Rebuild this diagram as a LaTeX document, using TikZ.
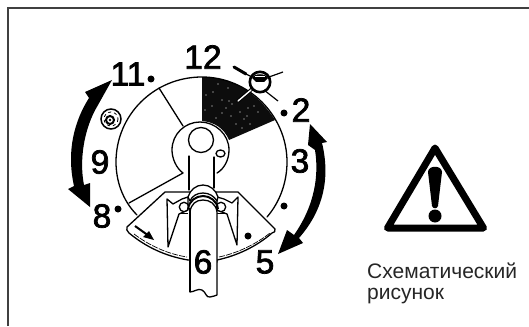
\documentclass[tikz,border=0pt]{standalone}
\usepackage{fontspec}
\setmainfont{Liberation Sans}
\newfontfamily\numfont[FakeBold=2.2]{Liberation Sans}
\begin{document}
\begin{tikzpicture}[x=1pt,y=-1pt,
  num/.style={font=\fontsize{33.5}{33}\numfont,inner sep=0pt,text=black},
  captxt/.style={font=\fontsize{21}{21}\selectfont,inner sep=0pt,anchor=base west,text=black!85},
  ln/.style={line width=1.3pt,line join=round,line cap=round},
  dotm/.style={circle,fill=black,inner sep=0pt,minimum size=7pt}]
\useasboundingbox (0,0) rectangle (529,326);
\fill[white] (0,0) rectangle (529,326);
% frame
\draw[line width=1.6pt,black!75] (8,326) -- (8,8) -- (529,8);
% wedge
\fill[black!95] (202,77) .. controls (229,77) and (256,90) .. (275,120) -- (229,140)
   .. controls (224,128) and (214,122) .. (202,121) -- cycle;
% dial
\draw[ln] (137,215) .. controls (122,200) and (116,180) .. (116,162)
   .. controls (116,115) and (154,77) .. (202,77)
   .. controls (248,77) and (287,115) .. (287,162)
   .. controls (287,182) and (280,202) .. (267,217);
\draw[ln] (159,88) -- (183,126);
\draw[ln] (129,203) -- (183,173);
% hub
\draw[ln] (183,173) .. controls (176,168) and (172,158) .. (172,150)
   .. controls (172,134) and (185,122) .. (200,122)
   .. controls (215,122) and (229,134) .. (229,150)
   .. controls (229,160) and (224,169) .. (217,173);
\draw[ln,fill=white] (201,140) circle[radius=12.5];
\draw[ln,fill=white] (220.5,153.5) ellipse[x radius=4.5,y radius=3.5];
\draw[ln] (189,156) -- (189,190);
\draw[ln] (214,157) -- (214,188);
% sparkle in wedge
\foreach \p in {(218,84),(228,88),(206,95),(213,92),(222,100),(229,101),(239,100),(226,108),(232,104),(205,110),(222,113),(216,118),(231,116),(240,112),(248,108),(254,106),(244,119),(236,124),(242,128),(250,124),(212,106),(258,112),(247,116)}
  \fill[white] \p circle[radius=0.6];
% shield
\draw[ln,fill=white] (127,227) -- (165,192) -- (238,192) -- (275,229)
   .. controls (276,232) and (274,232) .. (272,233)
   .. controls (256,247) and (236,256) .. (217,260) -- (217,262) -- (188,260)
   .. controls (165,256) and (146,247) .. (129,233)
   .. controls (127,231) and (126,229) .. (127,227) -- cycle;
\draw[line width=0.7pt,dash pattern=on 6pt off 1.2pt] (134,234) .. controls (150,246) and (168,254) .. (187,257);
\draw[line width=0.7pt,dash pattern=on 6pt off 1.2pt] (219,257) .. controls (238,253) and (256,244) .. (270,233);
% arrow in shield
\draw[line width=2pt] (135,226) -- (149,236);
\fill (154,240) -- (143,237) -- (149,231) -- cycle;
% clamps
\draw[ln,fill=white] (167,199) -- (173,204) -- (182,199) -- (188,197) -- (188,210) -- (179,214) -- (168,247) -- cycle;
\draw[ln,fill=white] (238,197) -- (232,203) -- (224,199) -- (217,197) -- (217,210) -- (227,214) -- (237,245) -- cycle;
\draw[ln,fill=white] (184,207) circle[radius=4.7];
\draw[ln,fill=white] (221,207) circle[radius=4.7];
\draw[line width=1pt] (180,213) -- (188,213);
\draw[line width=1pt] (217,213) -- (226,213);
% tube
\draw[ln,fill=white] (190,292) .. controls (194,292) and (198,288) .. (202,290)
   .. controls (206,292) and (206,298) .. (210,297) .. controls (213,296) and (216,296) .. (217,295)
   -- (217,212) .. controls (216,204) and (210,200) .. (203,200)
   .. controls (196,200) and (191,204) .. (190,212) -- cycle;
\draw[line width=2pt] (188,209) .. controls (189,201) and (196,196) .. (203,196)
   .. controls (210,196) and (217,201) .. (218,209);
\draw[ln,fill=white] (188,197) .. controls (190,190) and (196,185) .. (203,185)
   .. controls (210,185) and (216,190) .. (218,197) -- (217,201) .. controls (214,196) and (209,193) .. (203,193)
   .. controls (197,193) and (192,196) .. (190,201) -- cycle;
\draw[line width=1.4pt] (190,208) -- (190,292);
% left double arrow
\fill (112,80) -- (85,92) -- (89,98) .. controls (75,120) and (66,150) .. (74,186) -- (68,189) -- (90,207) -- (90,183)
  -- (84,185) .. controls (79,160) and (84,128) .. (98,105) -- cycle;
% right double arrow
\fill (310,124) -- (308,145) -- (315,150) .. controls (319,175) and (315,205) .. (294,235)
  -- (287,230) -- (278,254) -- (303,243) -- (299,238) .. controls (322,212) and (331,180) .. (322,143) -- (327,142) -- cycle;
% nut
\draw[line width=1.5pt,fill=white] (111,119) circle[radius=10];
\draw[line width=0.8pt,dashed] (111,119) circle[radius=7];
\draw[line width=2pt] (110,120) circle[radius=4];
\fill (110,120) circle[radius=1.4];
% scissor symbol
\draw[line width=2.6pt,fill=white] (260,82) circle[radius=10.2];
\fill (252,78) .. controls (254,73) and (266,73) .. (268,78) -- (264,82) -- (256,82) -- cycle;
\fill[white] (255,76) rectangle (265,77);
\draw[line width=3pt,line cap=round] (234,67) -- (246,74);
\draw[line width=1.2pt] (246,74) -- (252,77);
\draw[line width=1.2pt] (269,77) -- (283,72);
\draw[line width=1.2pt] (264,90) -- (278,101);
\draw[line width=3.4pt,line cap=round] (252,89) -- (238,101);
\draw[line width=1.4pt,white,line cap=round] (251,90) -- (238,101);
% numbers
\node[num] (n12) at (203,57) {12};
\node[num] (n11) at (128,74) {11};
\node[dotm] (d11) at (151,79) {};
\node[num] (n2) at (301,110) {2};
\node[dotm] (d2) at (284,113) {};
\node[num] (n3) at (300,161) {3};
\node[dotm] (d3) at (284,206) {};
\node[num] (n5) at (265,262) {5};
\node[dotm] (d5) at (248,236) {};
\node[num] (n6) at (203,262) {6};
\node[num] (n8) at (102,216) {8};
\node[dotm] (d8) at (118,209) {};
\node[num] (n9) at (100,162) {9};
% warning
\draw[line width=7pt,line join=round] (435,148) -- (387.5,228) -- (483.5,228) -- cycle;
\fill (428,172) .. controls (428,165) and (442,165) .. (442,172) -- (438,206) .. controls (437,209) and (433,209) .. (432,206) -- cycle;
\fill (435,216) circle[radius=6.5];
\node[captxt] (c1) at (367,278) {Схематический};
\node[captxt] (c2) at (367,299) {рисунок};
\end{tikzpicture}
\end{document}
